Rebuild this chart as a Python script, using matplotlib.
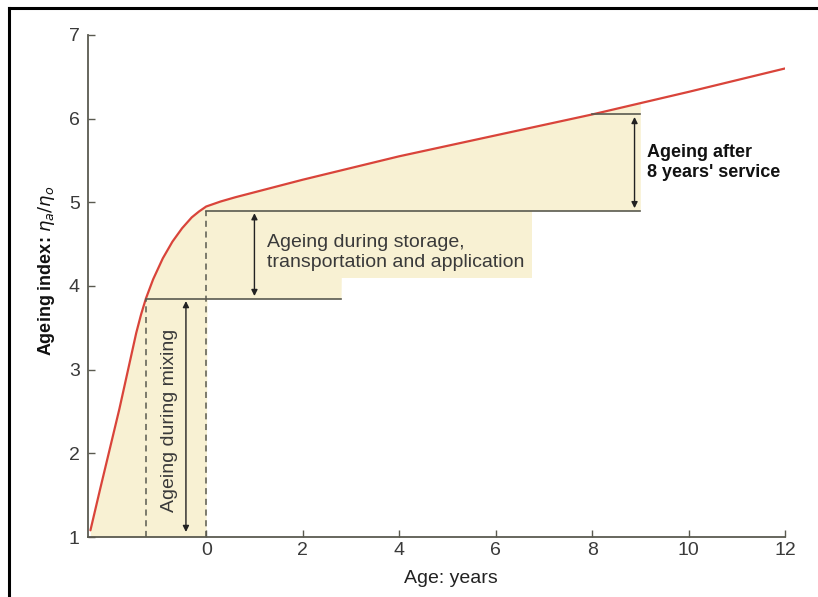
import numpy as np
import matplotlib.pyplot as plt
from matplotlib.lines import Line2D

plt.rcParams['font.family'] = ['Liberation Sans', 'DejaVu Sans']

# Ageing index of bitumen versus age (years; negative = before laying)
age = [-2.4, -2.2, -2.0, -1.8, -1.6, -1.45, -1.35, -1.25, -1.1, -0.9, -0.7,
       -0.5, -0.3, -0.15, 0.0, 0.3, 0.6, 1.0, 2.0, 4.0, 6.0, 8.0, 10.0, 12.0]
index = [1.08, 1.57, 2.05, 2.53, 3.05, 3.44, 3.66, 3.85, 4.08, 4.33, 4.53,
         4.69, 4.82, 4.89, 4.95, 5.01, 5.06, 5.12, 5.27, 5.55, 5.8, 6.05, 6.32, 6.6]

# Stage boundaries
mix_age, mix_index = -1.25, 3.85
lay_age, lay_index = 0.0, 4.9
service_age, service_index = 8.0, 6.05
storage_line_end = 2.8
service_line_end = 9.0
# Tinted backdrop behind the storage caption
caption_tint_end, caption_tint_floor = 6.75, 4.1

x_ticks = [0, 2, 4, 6, 8, 10, 12]
y_ticks = [1, 2, 3, 4, 5, 6, 7]

cream = '#f8f1d3'
ink = '#3a3a3a'
line_grey = '#5a5a50'

fig = plt.figure(figsize=(8.18, 5.97), dpi=100)
ax = fig.add_axes([0.1076, 0.1005, 0.8521, 0.8409])

xs = np.array(age)
ys = np.array(index)

# Shaded bands under the curve
fine_x = np.linspace(xs[0], service_line_end, 600)
fine_y = np.interp(fine_x, xs, ys)
lower = np.where(fine_x <= lay_age, 1.0,
                 np.where(fine_x <= storage_line_end, mix_index, lay_index))
ax.fill_between(fine_x, lower, fine_y, color=cream, lw=0)
ax.fill_between([storage_line_end, caption_tint_end], caption_tint_floor, lay_index,
                color=cream, lw=0)

# Ageing curve
ax.plot(xs, ys, color='#d9443a', lw=1.6, solid_capstyle='round', solid_joinstyle='round')

# Horizontal stage lines
ax.plot([mix_age, storage_line_end], [mix_index, mix_index], color=line_grey, lw=1.2)
ax.plot([lay_age, service_line_end], [lay_index, lay_index], color=line_grey, lw=1.2)
ax.plot([service_age, service_line_end], [service_index, service_index], color=line_grey, lw=1.2)

# Dashed drop lines
ax.plot([mix_age, mix_age], [1.0, mix_index], color=line_grey, lw=1.1, ls=(0, (4, 3)))
ax.plot([lay_age, lay_age], [1.0, lay_index], color=line_grey, lw=1.1, ls=(0, (4, 3)))

arrow_style = dict(arrowstyle='<|-|>', color='#222222', lw=1.0,
                   mutation_scale=9, shrinkA=0, shrinkB=0)

# Ageing during mixing
ax.annotate('', xy=(-0.42, 1.06), xytext=(-0.42, mix_index - 0.03), arrowprops=arrow_style)
ax.text(-0.77, 2.39, 'Ageing during mixing', rotation=90, ha='center', va='center',
        fontsize=14, color=ink)

# Ageing during storage, transportation and application
ax.annotate('', xy=(1.0, mix_index + 0.03), xytext=(1.0, lay_index - 0.03), arrowprops=arrow_style)
ax.text(1.27, 4.40, 'Ageing during storage,\ntransportation and application',
        ha='left', va='center', fontsize=14, color=ink, linespacing=1.2)

# Ageing in service
ax.annotate('', xy=(8.88, lay_index + 0.03), xytext=(8.88, service_index - 0.03), arrowprops=arrow_style)
ax.text(9.13, 5.48, "Ageing after\n8 years' service", ha='left', va='center',
        fontsize=13, fontweight='bold', color='#111111', linespacing=1.25)

ax.set_xlim(-2.45, 12)
ax.set_ylim(1, 7)
ax.set_xticks(x_ticks)
ax.set_yticks(y_ticks)
ax.tick_params(direction='in', length=5, width=1.0, colors=line_grey,
               labelcolor=ink, labelsize=14)
ax.tick_params(axis='y', pad=6)
ax.spines['top'].set_visible(False)
ax.spines['right'].set_visible(False)
for side in ('left', 'bottom'):
    ax.spines[side].set_color(line_grey)
    ax.spines[side].set_linewidth(1.3)

ax.set_xlabel('Age: years', fontsize=14, color='#222222')
ax.xaxis.set_label_coords(0.52, -0.065)
ax.set_ylabel(r'Ageing index: $\eta_a/\eta_o$', fontsize=13, fontweight='bold',
              color='#111111')
ax.yaxis.set_label_coords(-0.044, 0.53)

# Outer frame edges
fig.add_artist(Line2D([0.011, 1.0], [0.987, 0.987], transform=fig.transFigure,
                      color='black', lw=2.2))
fig.add_artist(Line2D([0.011, 0.011], [0.0, 0.987], transform=fig.transFigure,
                      color='black', lw=2.2))

fig.savefig('out.png', dpi=100)
